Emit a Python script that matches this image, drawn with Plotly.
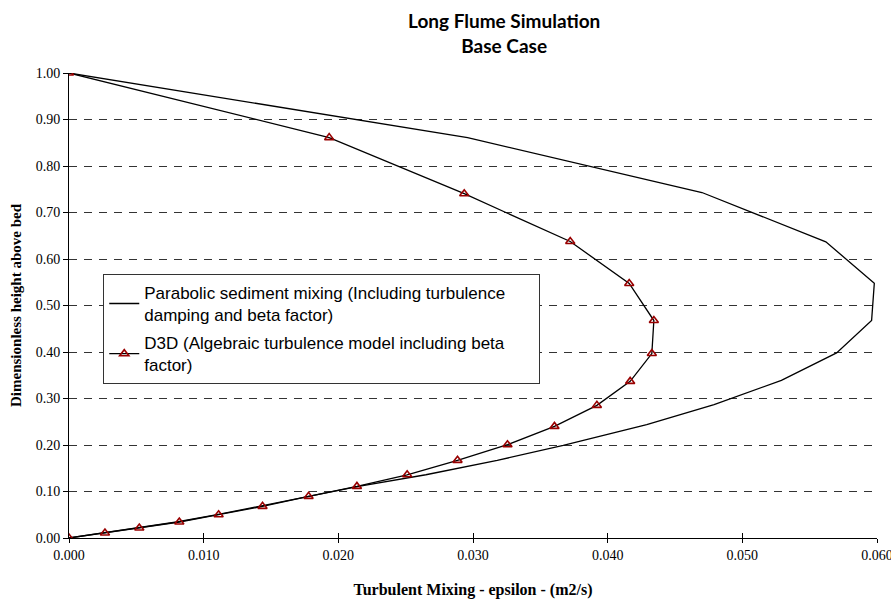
import plotly.graph_objects as go

# Parabolic sediment mixing profile
para_eps = [0.0, 0.0025, 0.0050, 0.0080, 0.0110, 0.0141, 0.0178, 0.0215, 0.0265,
            0.0318, 0.0367, 0.0429, 0.0479, 0.0529, 0.0570, 0.0596, 0.0598, 0.0562,
            0.0470, 0.0296, 0.0]
para_z = [0.0, 0.0108, 0.0215, 0.0344, 0.0501, 0.068, 0.0895, 0.111, 0.136,
          0.167, 0.199, 0.244, 0.287, 0.339, 0.398, 0.468, 0.548, 0.637,
          0.743, 0.861, 1.0]

# D3D algebraic turbulence model
d3d_eps = [0.0, 0.00267, 0.00522, 0.00819, 0.01111, 0.01437, 0.01779, 0.02138, 0.02511,
           0.02885, 0.03256, 0.03605, 0.03920, 0.04167, 0.04328, 0.04343, 0.04160,
           0.03722, 0.02935, 0.01932, 0.0]
d3d_z = [0.0, 0.0108, 0.0215, 0.0344, 0.0501, 0.068, 0.0895, 0.111, 0.136,
         0.167, 0.2006, 0.240, 0.2852, 0.3368, 0.3967, 0.4677, 0.5473,
         0.6376, 0.7404, 0.861, 1.0]

x_ticks = [0.0, 0.01, 0.02, 0.03, 0.04, 0.05, 0.06]
y_ticks = [0.0, 0.1, 0.2, 0.3, 0.4, 0.5, 0.6, 0.7, 0.8, 0.9, 1.0]

title_text = "<b>Long Flume Simulation<br>Base Case</b>"

serif = "Liberation Serif, Times New Roman, serif"
sans = "Liberation Sans, Arial, sans-serif"
pad = "&nbsp;" * 6

fig = go.Figure()
fig.add_trace(go.Scatter(
    x=para_eps, y=para_z, mode="lines", legendgroup="a",
    name="Parabolic sediment mixing (Including turbulence" + pad + "<br>damping and beta factor)",
    line=dict(color="black", width=1.3),
))
fig.add_trace(go.Scatter(
    x=d3d_eps, y=d3d_z, mode="lines+markers", legendgroup="b",
    name="D3D (Algebraic turbulence model including beta<br>factor)",
    line=dict(color="black", width=1.3),
    marker=dict(symbol="triangle-up-open", size=8, color="#990000",
                line=dict(color="#990000", width=1.6)),
))
# invisible trace on overlay axis for inside x ticks
fig.add_trace(go.Scatter(x=[x_ticks[0], x_ticks[-1]], y=[0, 0], xaxis="x2",
                         mode="none", showlegend=False, hoverinfo="skip"))

fig.add_annotation(text=title_text, xref="paper", yref="paper", x=0.538, y=1.143,
                   xanchor="center", yanchor="top", showarrow=False,
                   font=dict(family="Lato, Open Sans, sans-serif", size=19, color="black"))

fig.update_layout(
    width=891, height=603,
    margin=dict(l=69, r=14, t=73, b=65, autoexpand=False),
    paper_bgcolor="white", plot_bgcolor="white",
    showlegend=True,
    legend=dict(x=0.0424, y=0.568, xanchor="left", yanchor="top",
                bgcolor="white", bordercolor="#333", borderwidth=1,
                font=dict(family=sans, size=17, color="black"),
                tracegroupgap=3, itemwidth=30),
    xaxis=dict(range=[0, 0.06], tickvals=x_ticks, tickformat=".3f", automargin=False,
               ticklabeloverflow="allow",
               showgrid=False, zeroline=False, showline=True, linecolor="black", linewidth=1,
               ticks="outside", ticklen=4, tickcolor="black",
               tickfont=dict(family=serif, size=14, color="black"),
               title=dict(text="<b>Turbulent Mixing - epsilon - (m2/s)</b>",
                          font=dict(family=serif, size=16, color="black"), standoff=22)),
    xaxis2=dict(range=[0, 0.06], overlaying="x", tickvals=x_ticks, showticklabels=False,
                showgrid=False, zeroline=False, ticks="inside", ticklen=5, tickcolor="black",
                anchor="y", side="bottom", automargin=False),
    yaxis=dict(range=[0, 1.0], tickvals=y_ticks, tickformat=".2f", automargin=False,
               showgrid=True, gridcolor="#333", griddash="8px,7px", gridwidth=1,
               zeroline=False, showline=True, linecolor="black", linewidth=1,
               ticks="outside", ticklen=5, tickcolor="black",
               tickfont=dict(family=serif, size=14, color="black"),
               title=dict(text="<b>Dimensionless height above bed</b>",
                          font=dict(family=serif, size=15, color="black"), standoff=10)),
)

fig.write_html("out.html", config={"displayModeBar": False},
               post_script="document.body.style.margin='0';")
